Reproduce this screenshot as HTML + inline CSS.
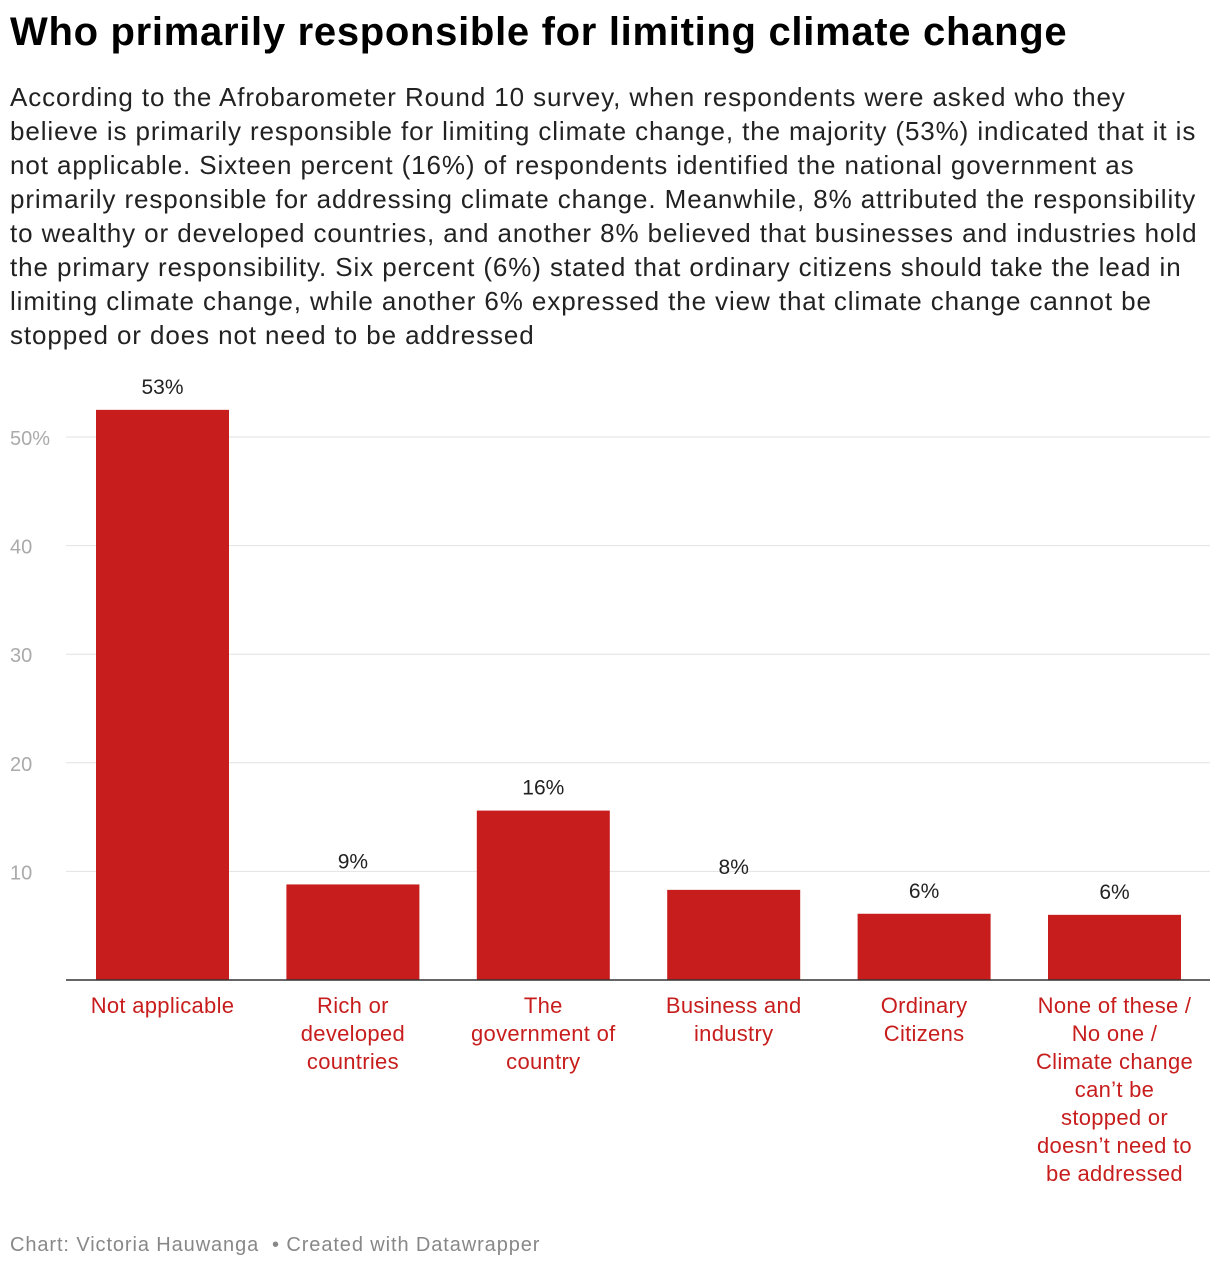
<!DOCTYPE html>
<html><head><meta charset="utf-8">
<style>
body{margin:0;width:1220px;height:1270px;background:#fff;font-family:"Liberation Sans",Roboto,sans-serif;position:relative;overflow:hidden}
h1{position:absolute;left:10px;top:10px;margin:0;font-size:40px;font-weight:bold;color:#000;letter-spacing:0.7px;white-space:nowrap}
p.desc{position:absolute;left:10px;top:80px;margin:0;width:1210px;font-size:26px;line-height:34px;color:#222;white-space:nowrap;letter-spacing:0.9px}
.foot{position:absolute;left:10px;top:1234px;font-size:20px;color:#888;letter-spacing:0.9px}
svg{position:absolute;left:0;top:0}
</style></head><body>
<h1>Who primarily responsible for limiting climate change</h1>
<p class="desc">According to the Afrobarometer Round 10 survey, when respondents were asked who they<br>believe is primarily responsible for limiting climate change, the majority (53%) indicated that it is<br>not applicable. Sixteen percent (16%) of respondents identified the national government as<br>primarily responsible for addressing climate change. Meanwhile, 8% attributed the responsibility<br>to wealthy or developed countries, and another 8% believed that businesses and industries hold<br>the primary responsibility. Six percent (6%) stated that ordinary citizens should take the lead in<br>limiting climate change, while another 6% expressed the view that climate change cannot be<br>stopped or does not need to be addressed</p>
<svg id="chart" width="1220" height="1270"></svg>
<div class="foot">Chart: Victoria Hauwanga &nbsp;• Created with Datawrapper</div>
<script>
const categories=[["Not applicable"],["Rich or","developed","countries"],["The","government of","country"],["Business and","industry"],["Ordinary","Citizens"],["None of these /","No one /","Climate change","can’t be","stopped or","doesn’t need to","be addressed"]];
const values=[52.5,8.8,15.6,8.3,6.1,6.0];
const valueLabels=["53%","9%","16%","8%","6%","6%"];
const ticks=[10,20,30,40,50];
const tickLabels=["10","20","30","40","50%"];
const NS="http://www.w3.org/2000/svg";
const svg=document.getElementById('chart');
const x0=67.3,x1=1209.7,y0=980,pxPer=10.86;
const band=(x1-x0)/values.length,bw=133;
const y=v=>y0-v*pxPer;
const xc=i=>x0+band*(i+0.5);
function mk(t,a){const e=document.createElementNS(NS,t);for(const k in a)e.setAttribute(k,a[k]);svg.appendChild(e);return e;}
ticks.forEach((t,i)=>{
 const g=mk('line',{x1:66,x2:1210,y1:y(t),y2:y(t),stroke:'#e2e2e2','stroke-width':1});
 
 
 const tx=mk('text',{x:10,y:y(t)+8,'font-size':20,fill:'#aaa'});
 tx.textContent=tickLabels[i];
 
 
});
values.forEach((v,i)=>{
 const r=mk('rect',{x:xc(i)-bw/2,y:y(v),width:bw,height:v*pxPer,fill:'#c71e1d'});
 
 
 const t=mk('text',{x:xc(i),y:y(v)-16,'font-size':21,fill:'#222','text-anchor':'middle'});
 t.textContent=valueLabels[i];
 
 
 categories[i].forEach((ln,j)=>{
  const c=mk('text',{x:xc(i),y:1013+j*28,'font-size':22,fill:'#c71e1d','text-anchor':'middle','letter-spacing':0.3});
  c.textContent=ln;
  
  
 });
});
const ax=mk('line',{x1:66,x2:1210,y1:y0,y2:y0,stroke:'#333','stroke-width':1.5});


</script>
</body></html>
